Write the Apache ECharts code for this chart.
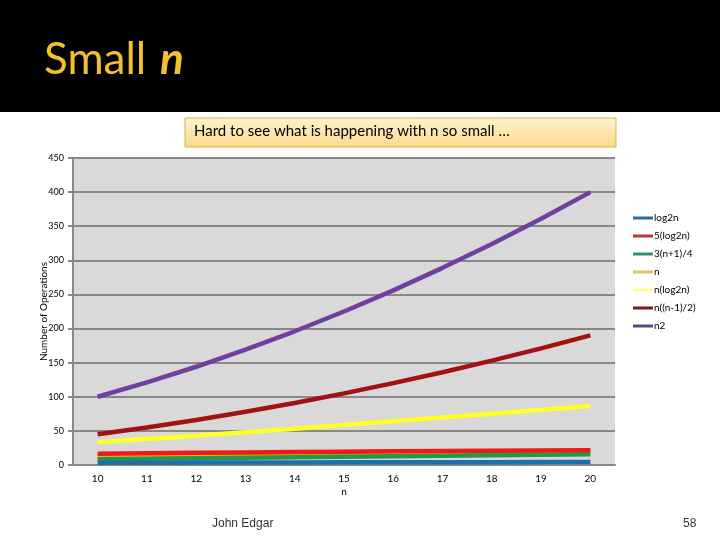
<!DOCTYPE html>
<html>
<head>
    <meta charset="UTF-8">
    <title>Small n</title>
    <script src="https://cdn.jsdelivr.net/npm/echarts@6/dist/echarts.min.js"></script>
    <style>
        html, body { margin: 0; padding: 0; background: #fff; }
        #main { width: 720px; height: 540px; }
    </style>
</head>
<body>
<div id="main"></div>
<script type="text/javascript">
    // data
    var nValues = ['10', '11', '12', '13', '14', '15', '16', '17', '18', '19', '20'];
    var log2n = [3.32, 3.46, 3.58, 3.70, 3.81, 3.91, 4.00, 4.09, 4.17, 4.25, 4.32];
    var fiveLog2n = [16.6, 17.3, 17.9, 18.5, 19.0, 19.5, 20.0, 20.4, 20.8, 21.2, 21.6];
    var threeN1over4 = [8.25, 9.0, 9.75, 10.5, 11.25, 12.0, 12.75, 13.5, 14.25, 15.0, 15.75];
    var nLinear = [10, 11, 12, 13, 14, 15, 16, 17, 18, 19, 20];
    var nLog2n = [33.2, 38.1, 43.0, 48.1, 53.3, 58.6, 64.0, 69.5, 75.1, 80.7, 86.4];
    var nHalfSquare = [45, 55, 66, 78, 91, 105, 120, 136, 153, 171, 190];
    var nSquared = [100, 121, 144, 169, 196, 225, 256, 289, 324, 361, 400];

    var seriesNames = ['log2n', '5(log2n)', '3(n+1)/4', 'n', 'n(log2n)', 'n((n-1)/2)', 'n2'];
    var seriesData = [log2n, fiveLog2n, threeN1over4, nLinear, nLog2n, nHalfSquare, nSquared];
    var lineColors = ['#1f6fae', '#f01818', '#1e9a48', '#ffb400', '#ffff2a', '#a01214', '#7040a0'];
    var legendColors = ['#2f6a94', '#b8383a', '#2e9470', '#e0c062', '#ffff88', '#781a1a', '#5a4a80'];

    var myChart = echarts.init(document.getElementById('main'));

    var series = [];
    for (var i = 0; i < seriesNames.length; i++) {
        series.push({
            name: seriesNames[i],
            type: 'line',
            data: seriesData[i],
            symbol: 'none',
            z: 10 - i,
            lineStyle: {width: 4.5, color: lineColors[i]},
            itemStyle: {color: legendColors[i]}
        });
    }

    var option = {
        backgroundColor: '#fff',
        animation: false,
        graphic: [
            {
                type: 'rect',
                shape: {x: 0, y: 0, width: 720, height: 112},
                style: {fill: '#000'}
            },
            {
                type: 'text',
                left: 44, top: 38,
                style: {
                    text: 'Small',
                    fill: '#f2c12e',
                    font: '44px Lato, "Open Sans", sans-serif'
                }
            },
            {
                type: 'text',
                left: 160, top: 38,
                style: {
                    text: 'n',
                    fill: '#f2c12e',
                    font: 'italic bold 44px Lato, "Open Sans", sans-serif'
                }
            },
            {
                type: 'rect',
                shape: {x: 185, y: 118, width: 431, height: 29},
                style: {
                    fill: new echarts.graphic.LinearGradient(0, 0, 0, 1, [
                        {offset: 0, color: '#fff3cf'},
                        {offset: 1, color: '#fbd98c'}
                    ]),
                    stroke: '#d8b050',
                    lineWidth: 1
                }
            },
            {
                type: 'text',
                left: 194, top: 124,
                style: {
                    text: 'Hard to see what is happening with n so small …',
                    fill: '#000',
                    font: '15px Lato, "Open Sans", sans-serif'
                }
            },
            {
                type: 'text',
                left: 212, top: 518,
                style: {text: 'John Edgar', fill: '#333', font: '12px "Liberation Sans", Arial, sans-serif'}
            },
            {
                type: 'text',
                left: 683, top: 518,
                style: {text: '58', fill: '#333', font: '12px "Liberation Sans", Arial, sans-serif'}
            }
        ],
        legend: {
            orient: 'vertical',
            left: 628,
            top: 207,
            itemWidth: 20,
            itemHeight: 3,
            itemGap: 6,
            icon: 'rect',
            textStyle: {fontSize: 10, color: '#000', fontFamily: 'Lato, sans-serif', padding: [0, 0, 0, -4], lineHeight: 12},
            data: seriesNames
        },
        grid: {
            left: 73,
            right: 105,
            top: 158,
            bottom: 75,
            show: true,
            backgroundColor: '#d9d9d9',
            borderWidth: 0
        },
        xAxis: {
            type: 'category',
            boundaryGap: true,
            data: nValues,
            name: 'n',
            nameLocation: 'middle',
            nameGap: 22,
            nameMoveOverlap: false,
            nameTextStyle: {fontSize: 10, color: '#000', fontFamily: 'Lato, sans-serif'},
            axisLine: {lineStyle: {color: '#888', width: 2}},
            axisTick: {show: false},
            axisLabel: {fontSize: 10, color: '#000', margin: 9, fontFamily: 'Lato, sans-serif'}
        },
        yAxis: {
            type: 'value',
            min: 0,
            max: 450,
            interval: 50,
            name: 'Number of Operations',
            nameLocation: 'middle',
            nameGap: 24,
            nameMoveOverlap: false,
            nameTextStyle: {fontSize: 10, color: '#000', fontFamily: 'Lato, sans-serif'},
            axisLine: {show: true, lineStyle: {color: '#888', width: 2}},
            axisTick: {show: true, length: 5, inside: false, lineStyle: {color: '#888', width: 2}},
            axisLabel: {fontSize: 9, color: '#000', margin: 9, fontFamily: 'Lato, sans-serif'},
            splitLine: {lineStyle: {color: '#888', width: 2}}
        },
        series: series
    };
    myChart.setOption(option);
</script>
</body>
</html>
